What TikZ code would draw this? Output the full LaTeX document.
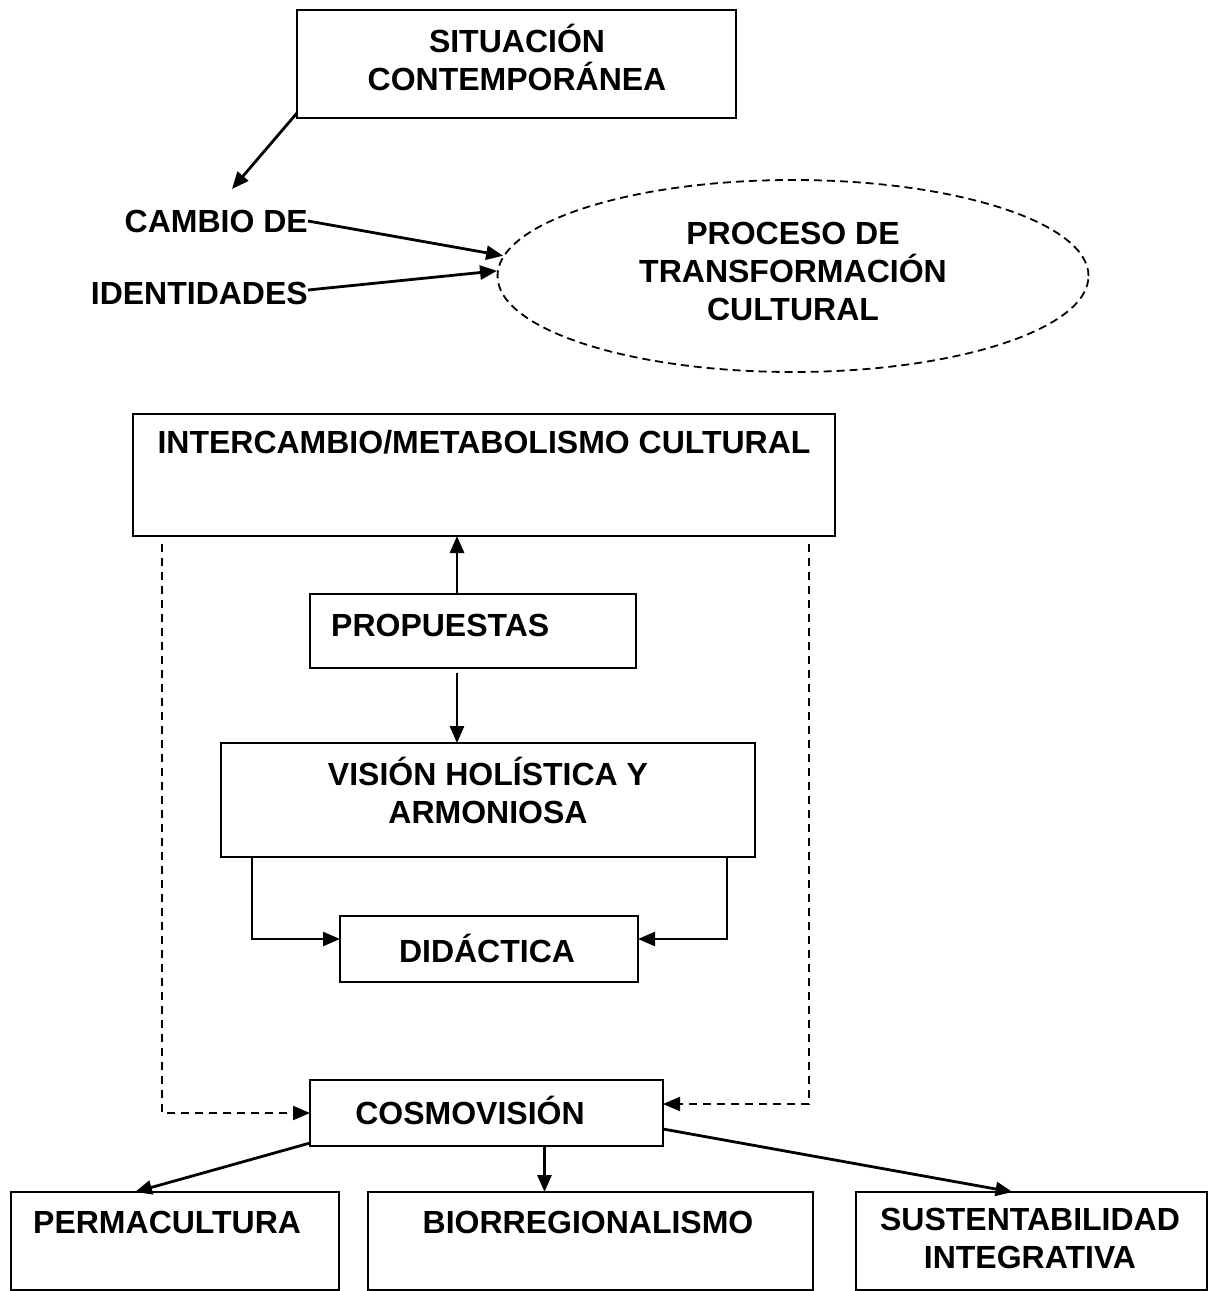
\documentclass[tikz,border=0pt]{standalone}
\usepackage{fontspec}
\setmainfont{Liberation Sans}
\usetikzlibrary{arrows.meta,shapes.geometric}
\begin{document}
\begin{tikzpicture}[x=1pt,y=-1pt,
  box/.style={draw,line width=2.3pt,inner sep=0pt,outer sep=0pt},
  lbl/.style={font=\fontsize{32}{38}\selectfont\bfseries,align=center,inner sep=0pt},
  arr/.style={line width=2.8pt,-{Triangle[length=17pt,width=14pt]}},
  dsh/.style={line width=2.2pt,dash pattern=on 8pt off 6pt},
  darr/.style={dsh,-{Triangle[length=17pt,width=14pt]}},
]
\useasboundingbox (0,0) rectangle (1212,1291);
\fill[white] (0,0) rectangle (1212,1291);

% top box
\node[box,minimum width=439pt,minimum height=108pt] (sit) at (516.5,64) {};
\node[lbl] (sitt) at (517,57) {SITUACIÓN\\CONTEMPORÁNEA};
\coordinate (ctip) at (232,189);
\draw[arr] ([yshift=5pt]sit.south west) -- (ctip);

% cambio de identidades
\node[lbl,anchor=east] (cambio) at (308,221) {CAMBIO DE};
\node[lbl,anchor=east] (ident) at (308,293) {IDENTIDADES};

% ellipse
\node[draw,ellipse,line width=1.8pt,dash pattern=on 8pt off 5pt,minimum width=591pt,minimum height=192pt,inner sep=0pt] (proc) at (793,276) {};
\node[lbl] (proct) at (793,271) {PROCESO DE\\TRANSFORMACIÓN\\CULTURAL};
\draw[arr] (cambio.east) -- (proc.176);
\draw[arr] ([yshift=3pt]ident.east) -- (proc.179.5);

% intercambio
\node[box,minimum width=702pt,minimum height=122pt] (inter) at (484,475) {};
\node[lbl] (intert) at (484,442) {INTERCAMBIO/METABOLISMO CULTURAL};

% propuestas
\node[box,minimum width=326pt,minimum height=74pt] (prop) at (473,631) {};
\node[lbl,anchor=west] (propt) at (331,625) {PROPUESTAS};
\draw[arr] ([xshift=-16pt]prop.north) -- ([xshift=-16pt]prop.north |- inter.south);

% vision
\node[box,minimum width=534pt,minimum height=114pt] (vis) at (488,800) {};
\node[lbl] (vist) at (488,790) {VISIÓN HOLÍSTICA Y\\ARMONIOSA};
\draw[arr] ([shift={(-16,5)}]prop.south) -- ([xshift=-16pt]prop.south |- vis.north);

% didactica
\node[box,minimum width=298pt,minimum height=66pt] (did) at (489,949) {};
\node[lbl] (didt) at (487,948) {DIDÁCTICA};
\draw[line width=2.3pt,-{Triangle[length=17pt,width=14pt]}] ([xshift=31pt]vis.south west) |- ([yshift=10pt]did.west);
\draw[line width=2.3pt,-{Triangle[length=17pt,width=14pt]}] ([xshift=-28pt]vis.south east) |- ([yshift=10pt]did.east);

% cosmovision
\node[box,minimum width=353pt,minimum height=66pt] (cosmo) at (486.5,1113) {};
\node[lbl] (cosmot) at (470,1110) {COSMOVISIÓN};
\draw[darr] ([shift={(29,8)}]inter.south west) |- (cosmo.west);
\draw[darr] ([shift={(-26,8)}]inter.south east) |- ([yshift=9pt]cosmo.east);

% bottom boxes
\node[box,minimum width=328pt,minimum height=98pt] (perma) at (175,1241) {};
\node[lbl,anchor=west] (permat) at (33,1222) {PERMACULTURA};
\node[box,minimum width=445pt,minimum height=98pt] (bio) at (590.5,1241) {};
\node[lbl] (biot) at (588,1222) {BIORREGIONALISMO};
\node[box,minimum width=351pt,minimum height=98pt] (sus) at (1031.5,1241) {};
\node[lbl] (sust) at (1030,1238) {SUSTENTABILIDAD\\INTEGRATIVA};

\draw[arr] ([yshift=3pt]cosmo.south west) -- ([xshift=-40pt]perma.north);
\draw[arr] ([xshift=58pt]cosmo.south) -- ([xshift=58pt]cosmo.south |- bio.north);
\draw[arr] ([yshift=17pt]cosmo.south east) -- ([xshift=-19pt]sus.north);
\end{tikzpicture}
\end{document}
